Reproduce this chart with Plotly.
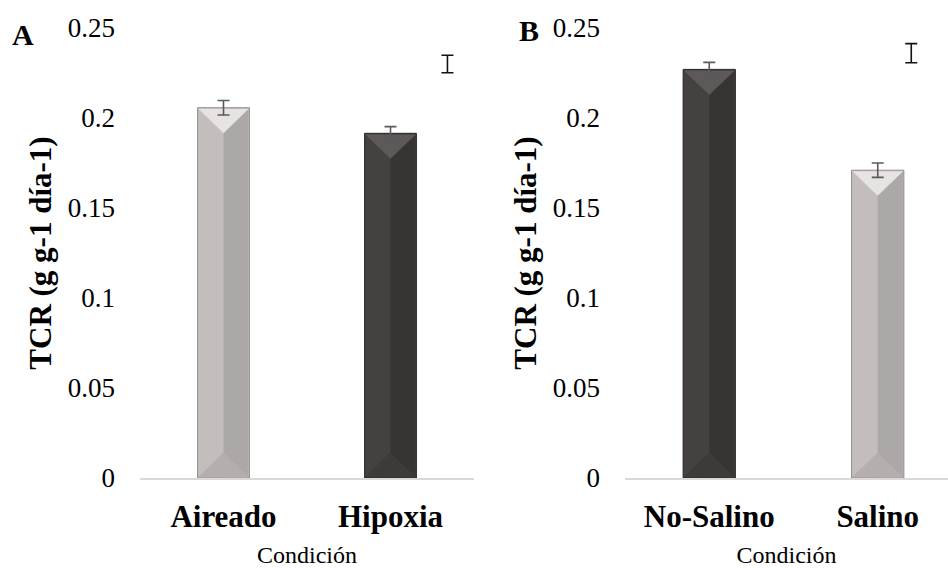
import plotly.graph_objects as go

# ---------------- data ----------------
cats_a = ["Aireado", "Hipoxia"]
vals_a = [0.2057, 0.1915]
err_a = [0.0040, 0.0037]

cats_b = ["No-Salino", "Salino"]
vals_b = [0.227, 0.171]
err_b = [0.0039, 0.0040]

# separate reference (LSD) bars
lsd_a_val, lsd_a_err = 0.230, 0.0049
lsd_b_val, lsd_b_err = 0.236, 0.0053

y_ticks = [0, 0.05, 0.1, 0.15, 0.2, 0.25]
y_ticktext = ["0", "0.05", "0.1", "0.15", "0.2", "0.25"]

# ---------------- styles ----------------
LIGHT = dict(left="#C3BDBB", right="#ACA8A7", top="#E6E3E2", bottom="#B4AFAD", line="#8E8A89")
DARK = dict(left="#454141", right="#383434", top="#5D5959", bottom="#3E3A3A", line="#262323")
colors_a = [LIGHT, DARK]
colors_b = [DARK, LIGHT]
BAR_W = 0.31
BEVEL = 0.0142  # y-units for 45-degree bevel of bar half width
SERIF = "Liberation Serif, Times New Roman, Times, serif"

fig = go.Figure()


def add_panel(cats, vals, errs, cols, xa, ya, lsd_x, lsd_val, lsd_err):
    xs = list(range(len(cats)))
    # base bars (left face colour)
    fig.add_trace(go.Bar(
        x=xs, y=vals, width=BAR_W,
        marker=dict(color=[c["left"] for c in cols],
                    line=dict(color=[c["line"] for c in cols], width=1)),
        xaxis=xa, yaxis=ya, showlegend=False, hoverinfo="skip"))
    # right half (darker face)
    fig.add_trace(go.Bar(
        x=xs, y=vals, width=BAR_W / 2 - 0.006, offset=0,
        marker=dict(color=[c["right"] for c in cols], line=dict(width=0)),
        xaxis=xa, yaxis=ya, showlegend=False, hoverinfo="skip"))
    # bevel triangles (top highlight, bottom shade)
    for x, v, c in zip(xs, vals, cols):
        hw = BAR_W / 2 - 0.004
        fig.add_trace(go.Scatter(
            x=[x - hw, x + hw, x, x - hw], y=[v - 0.0006, v - 0.0006, v - BEVEL, v - 0.0006],
            fill="toself", fillcolor=c["top"], mode="lines", line=dict(width=0),
            xaxis=xa, yaxis=ya, showlegend=False, hoverinfo="skip"))
        fig.add_trace(go.Scatter(
            x=[x - hw, x + hw, x, x - hw], y=[0.0006, 0.0006, BEVEL, 0.0006],
            fill="toself", fillcolor=c["bottom"], mode="lines", line=dict(width=0),
            xaxis=xa, yaxis=ya, showlegend=False, hoverinfo="skip"))
    # error bars on bars
    fig.add_trace(go.Scatter(
        x=xs, y=vals, mode="markers", marker=dict(size=0.1, color="rgba(0,0,0,0)"),
        error_y=dict(type="data", array=errs, color="#5A5A5A", thickness=1.6, width=6),
        xaxis=xa, yaxis=ya, showlegend=False, hoverinfo="skip"))
    # separate reference bar
    fig.add_trace(go.Scatter(
        x=[lsd_x], y=[lsd_val], mode="markers", marker=dict(size=0.1, color="rgba(0,0,0,0)"),
        error_y=dict(type="data", array=[lsd_err], color="#111111", thickness=1.6, width=6),
        xaxis=xa, yaxis=ya, showlegend=False, hoverinfo="skip"))


add_panel(cats_a, vals_a, err_a, colors_a, "x", "y", 1.341, lsd_a_val, lsd_a_err)
add_panel(cats_b, vals_b, err_b, colors_b, "x2", "y2", 1.199, lsd_b_val, lsd_b_err)

W, H = 948, 568
ydom = [1 - 478 / H, 1 - 28 / H]

xcommon = dict(showline=True, linecolor="#D9D9D9", linewidth=2, ticks="", showgrid=False,
               zeroline=False, automargin=False,
               tickfont=dict(family=SERIF, size=31, color="black", weight="bold"),
               ticklabelstandoff=10,
               title=dict(text="Condición", font=dict(family=SERIF, size=24, color="black"), standoff=13))
ycommon = dict(range=[0, 0.25], showline=False, ticks="", showgrid=False, zeroline=False,
               automargin=False,
               tickvals=y_ticks, ticktext=y_ticktext, ticklabelstandoff=24,
               tickfont=dict(family=SERIF, size=27, color="black"),
               title=dict(text="TCR (g g-1 día-1)", font=dict(family=SERIF, size=31, color="black", weight="bold"),
                          standoff=6))

fig.update_layout(
    template="none",
    width=W, height=H, margin=dict(l=0, r=0, t=0, b=0, autoexpand=False),
    paper_bgcolor="white", plot_bgcolor="white", barmode="overlay", showlegend=False,
    font=dict(family=SERIF, color="black"),
    xaxis=dict(domain=[140 / W, 474 / W], range=[-0.5, 1.5], tickvals=[0, 1], ticktext=cats_a,
               anchor="y", **xcommon),
    yaxis=dict(domain=ydom, anchor="x", **ycommon),
    xaxis2=dict(domain=[625 / W, 1.0], range=[-0.5, 1.417], tickvals=[0, 1], ticktext=cats_b,
                anchor="y2", **xcommon),
    yaxis2=dict(domain=ydom, anchor="x2", **ycommon),
    annotations=[
        dict(text="<b>A</b>", x=22.5 / W, y=1 - 35 / H, xref="paper", yref="paper", showarrow=False,
             xanchor="center", yanchor="middle",
             font=dict(family=SERIF, size=30, color="black")),
        dict(text="<b>B</b>", x=529 / W, y=1 - 31 / H, xref="paper", yref="paper", showarrow=False,
             xanchor="center", yanchor="middle",
             font=dict(family=SERIF, size=30, color="black")),
    ],
)

fig.write_html("out.html")
